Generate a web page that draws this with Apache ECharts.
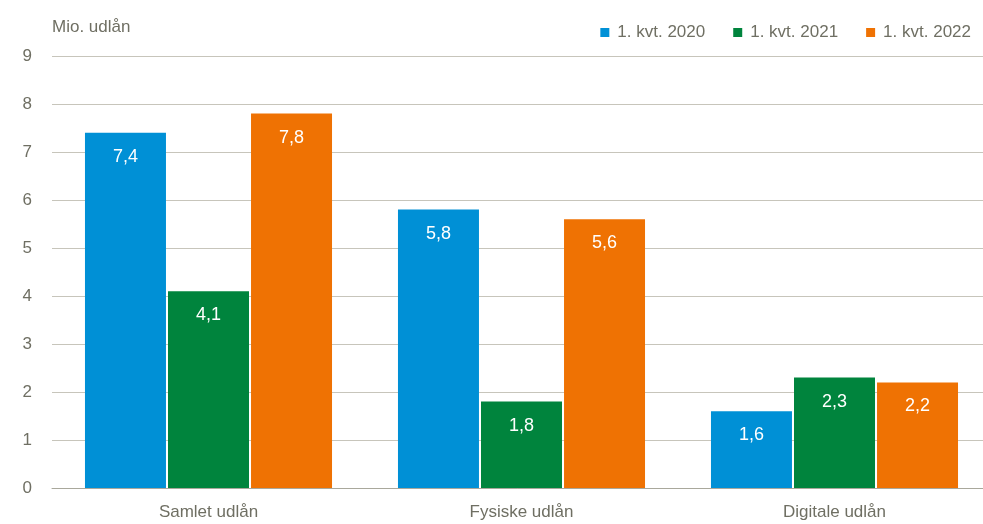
<!DOCTYPE html>
<html>
<head>
<meta charset="utf-8">
<script src="https://cdn.jsdelivr.net/npm/echarts@6/dist/echarts.min.js"></script>
<style>
html,body{margin:0;padding:0;background:#fff;}
#chart{width:983px;height:524px;}
</style>
</head>
<body>
<div id="chart"></div>
<script>
var categories = ['Samlet udlån', 'Fysiske udlån', 'Digitale udlån'];
var seriesNames = ['1. kvt. 2020', '1. kvt. 2021', '1. kvt. 2022'];
var q2020 = [7.4, 5.8, 1.6];
var q2021 = [4.1, 1.8, 2.3];
var q2022 = [7.8, 5.6, 2.2];
var colors = ['#0090d6', '#00843d', '#ef7203'];

var textColor = '#6f6f63';
var font = 'Liberation Sans';

function makeSeries(name, data, color) {
    return {
        name: name,
        type: 'bar',
        data: data,
        barWidth: 81,
        barGap: '2.5%',
        itemStyle: { color: color },
        label: {
            show: true,
            position: 'insideTop',
            distance: 15,
            color: '#fff',
            fontSize: 18,
            fontFamily: font,
            formatter: function (p) { return String(p.value).replace('.', ','); }
        }
    };
}

var myChart = echarts.init(document.getElementById('chart'));
var option = {
    animation: false,
    color: colors,
    textStyle: { fontFamily: font },
    legend: {
        top: 19,
        right: 7,
        itemWidth: 9,
        itemHeight: 9,
        itemGap: 28,
        icon: 'rect',
        textStyle: { color: textColor, fontSize: 17, fontFamily: font, padding: [0, 0, 0, 3] },
        data: seriesNames
    },
    grid: {
        top: 56,
        bottom: 36,
        left: 52,
        width: 939,
        outerBoundsMode: 'none',
        containLabel: false
    },
    xAxis: {
        type: 'category',
        data: categories,
        axisTick: { show: false },
        axisLine: { lineStyle: { color: '#a9a89c', width: 1 } },
        axisLabel: { color: textColor, fontSize: 17, fontFamily: font, margin: 16 }
    },
    yAxis: {
        type: 'value',
        min: 0,
        max: 9,
        interval: 1,
        name: 'Mio. udlån',
        nameLocation: 'end',
        nameGap: 20,
        nameTextStyle: { color: textColor, fontSize: 17, fontFamily: font, align: 'left' },
        axisLabel: { color: textColor, fontSize: 17, fontFamily: font, margin: 20 },
        splitLine: { lineStyle: { color: '#c7c5bb', width: 1 } }
    },
    series: [
        makeSeries(seriesNames[0], q2020, colors[0]),
        makeSeries(seriesNames[1], q2021, colors[1]),
        makeSeries(seriesNames[2], q2022, colors[2])
    ]
};
myChart.setOption(option);
</script>
</body>
</html>
